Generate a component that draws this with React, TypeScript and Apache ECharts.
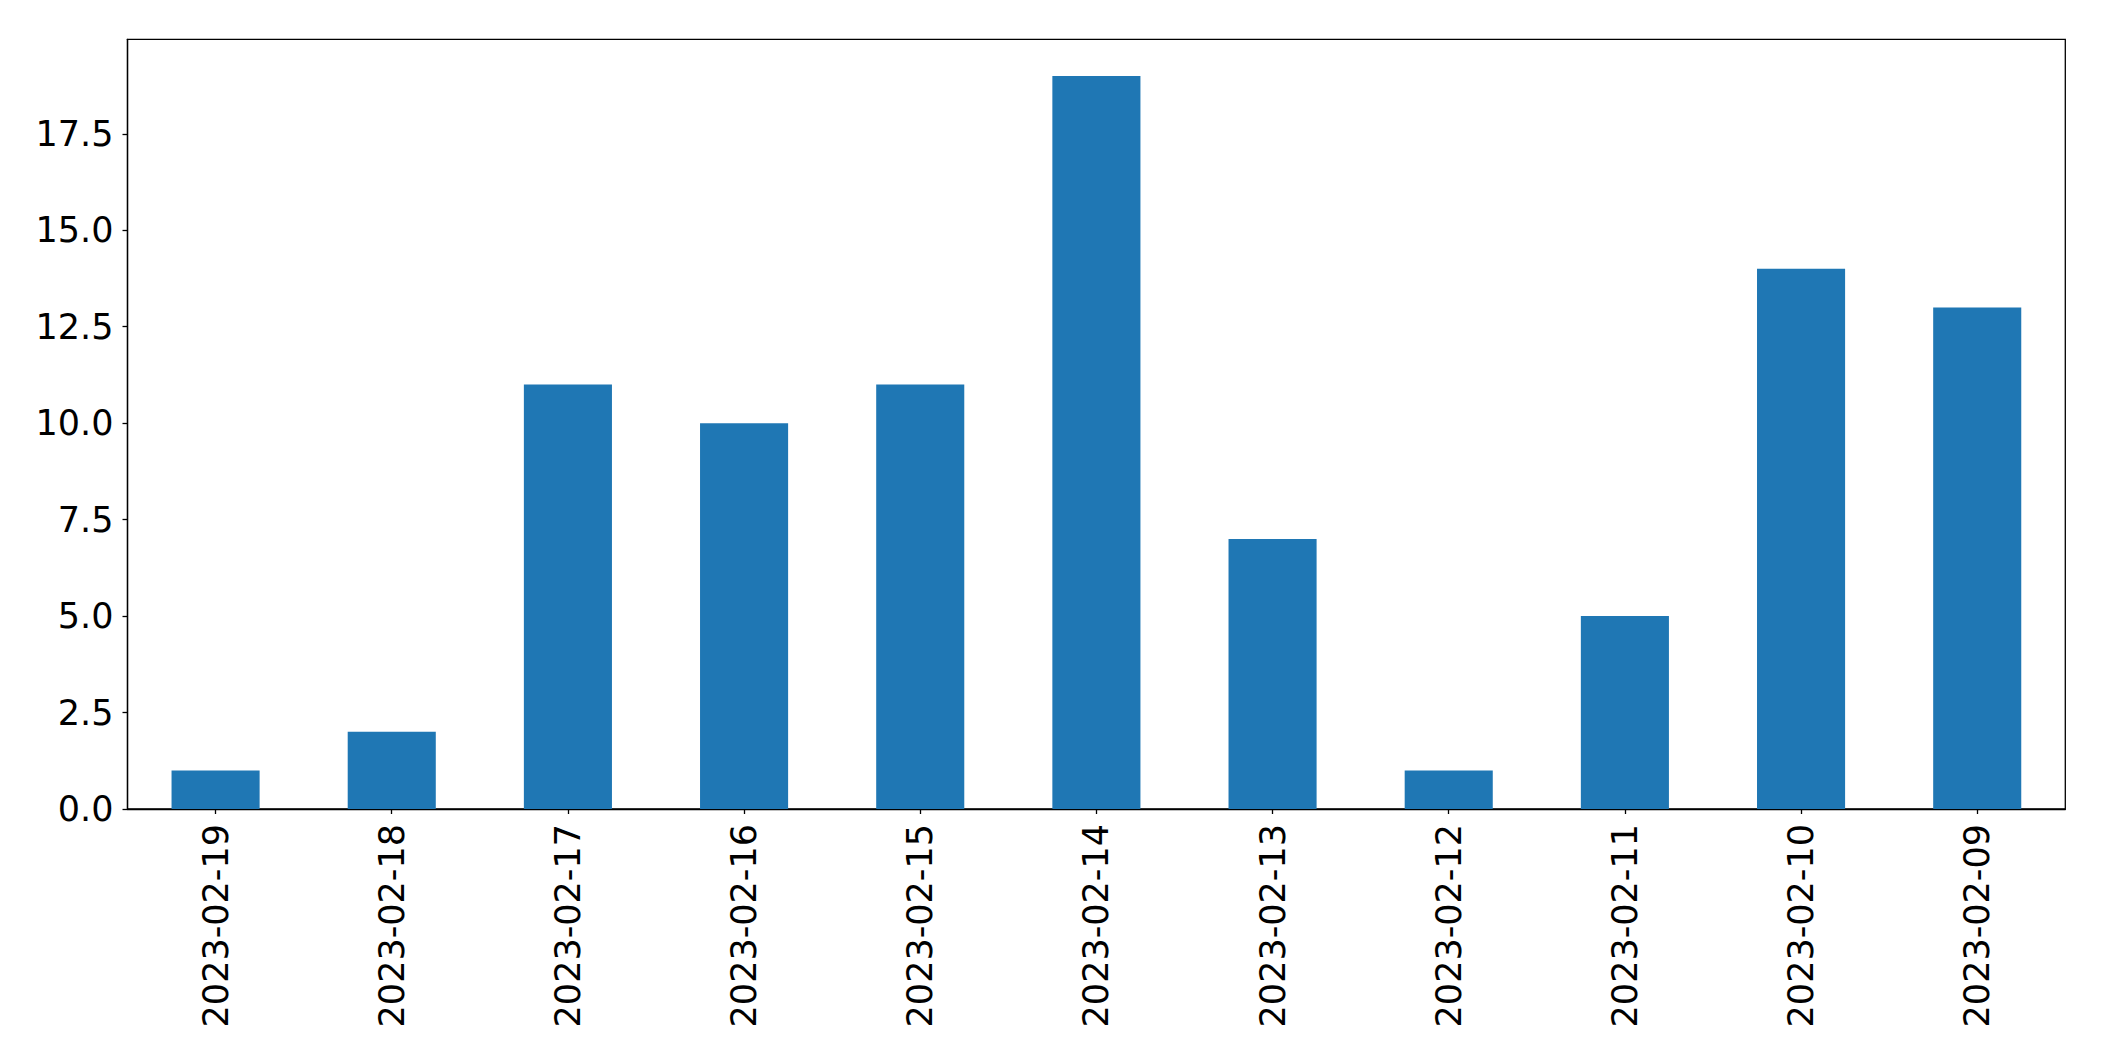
import React, { useEffect, useRef } from "react";
import * as echarts from "echarts";

const categories = [
  "2023-02-19", "2023-02-18", "2023-02-17", "2023-02-16", "2023-02-15", "2023-02-14",
  "2023-02-13", "2023-02-12", "2023-02-11", "2023-02-10", "2023-02-09",
];
const values = [1, 2, 11, 10, 11, 19, 7, 1, 5, 14, 13];
const yTicks = [0, 2.5, 5, 7.5, 10, 12.5, 15, 17.5];

export default function App() {
  const ref = useRef<HTMLDivElement>(null);
  useEffect(() => {
    if (!ref.current) return;
    const chart = echarts.init(ref.current, null, { renderer: "svg" });
    const font = "DejaVu Sans";
    chart.setOption({
      animation: false,
      backgroundColor: "#ffffff",
      grid: {
        left: 127.5,
        right: 38.7,
        top: 39.3,
        bottom: 252,
        show: true,
        borderColor: "#000000",
        borderWidth: 1.3,
        containLabel: false,
      },
      xAxis: {
        type: "category",
        data: categories,
        boundaryGap: true,
        axisLine: { show: true, lineStyle: { color: "#000000", width: 1.3 } },
        axisTick: { show: true, alignWithLabel: true, length: 5, lineStyle: { color: "#000000", width: 1.3 } },
        axisLabel: {
          rotate: 90,
          margin: 15,
          color: "#000000",
          fontFamily: font,
          fontSize: 35,
          interval: 0,
        },
        splitLine: { show: false },
      },
      yAxis: {
        type: "value",
        min: 0,
        max: 19.95,
        axisLine: { show: true, lineStyle: { color: "#000000", width: 1.3 } },
        axisTick: { show: true, length: 5, customValues: yTicks, lineStyle: { color: "#000000", width: 1.3 } },
        axisLabel: {
          customValues: yTicks,
          margin: 14,
          color: "#000000",
          fontFamily: font,
          fontSize: 35,
          formatter: (v: number) => v.toFixed(1),
        },
        splitLine: { show: false },
      },
      series: [
        {
          type: "bar",
          data: values,
          barWidth: "50%",
          itemStyle: { color: "#1f77b4" },
        },
      ],
    });
    return () => chart.dispose();
  }, []);
  return (
    <div
      ref={ref}
      style={{ position: "fixed", left: 0, top: 0, width: 2104, height: 1061, background: "#fff" }}
    />
  );
}
